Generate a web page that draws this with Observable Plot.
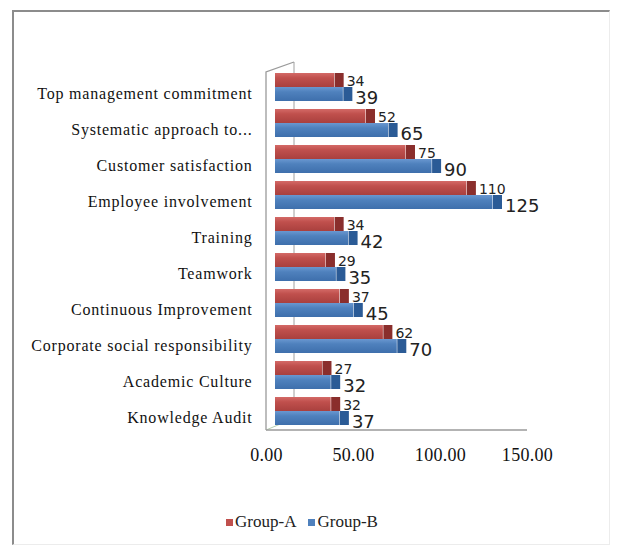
<!DOCTYPE html>
<html><head><meta charset="utf-8">
<script src="https://cdn.jsdelivr.net/npm/d3@7"></script>
<script src="https://cdn.jsdelivr.net/npm/@observablehq/plot@0.6"></script>
<style>
body{margin:0;background:#fff;}
#wrap{position:relative;width:618px;height:553px;overflow:hidden;}
#frame{position:absolute;left:12px;top:10px;width:598px;height:535px;box-sizing:border-box;border-left:2px solid #8c8c8c;border-top:2px solid #8c8c8c;border-right:1px solid #ececec;border-bottom:1px solid #ececec;}
#chart{position:absolute;left:0;top:0;}
#legend{position:absolute;left:0;top:512px;width:604px;text-align:center;font-family:"Liberation Serif",serif;font-size:17px;color:#222;}
#legend span.item{display:inline-block;margin:0 6px;}
#legend span.sw{display:inline-block;width:7px;height:7px;margin-right:2px;vertical-align:1px;}
</style></head>
<body>
<div id="wrap"><div id="frame"></div><div id="chart"></div><div id="legend"></div></div>
<script>
const categories = ["Top management commitment","Systematic approach to...","Customer satisfaction","Employee involvement","Training","Teamwork","Continuous Improvement","Corporate social responsibility","Academic Culture","Knowledge Audit"];
const groupA = [34,52,75,110,34,29,37,62,27,32];
const groupB = [39,65,90,125,42,35,45,70,32,37];
const xTicks = [0,50,100,150];
const seriesNames = ["Group-A","Group-B"];
const seriesColors = ["#c0504d","#4f81bd"];
const capColors = ["#8a2e2c","#2b5b96"];

const rows = categories.map((c,i)=>({category:c, a:groupA[i], b:groupB[i]}));

const defs = () => {
  const svg = d3.create("svg:defs");
  const mk = (id, c1, c2, c3) => {
    const g = svg.append("linearGradient").attr("id", id).attr("x1",0).attr("x2",0).attr("y1",0).attr("y2",1);
    g.append("stop").attr("offset","0%").attr("stop-color",c1);
    g.append("stop").attr("offset","35%").attr("stop-color",c2);
    g.append("stop").attr("offset","100%").attr("stop-color",c3);
  };
  mk("gA","#d46a67","#c0504d","#a9403e");
  mk("gB","#6a97d0","#4f81bd","#3e6fac");
  return svg.node();
};

const wall = (index, scales, values, dims) => {
  const g = d3.create("svg:g").attr("fill","none");
  const x0 = scales.x(0), x1 = scales.x(150);
  const top = dims.marginTop, bot = dims.height - dims.marginBottom;
  g.append("path").attr("d", `M${x0+28},${bot-12}V${top-10}`).attr("stroke","#a0a0a0");
  g.append("path").attr("d", `M${x0},${bot}V${top}L${x0+28},${top-10}`).attr("stroke","#9a9a9a").attr("stroke-width",1.3);
  g.append("path").attr("d", `M${x0},${bot}L${x0+24},${bot-10}`).attr("stroke","#b8d0b0");
  g.append("path").attr("d", `M${x0},${bot}H${x1}`).attr("stroke","#9a9a9a").attr("stroke-width",1.3);
  return g.node();
};

const plot = Plot.plot({
  width: 618,
  height: 480,
  marginLeft: 266,
  marginRight: 91,
  marginTop: 72,
  marginBottom: 50,
  style: {fontFamily: "Liberation Serif, serif", fontSize: "16px", color: "#111", background: "transparent"},
  x: {domain: [0,150], ticks: xTicks, tickFormat: d3.format(".2f"), tickSize: 0, tickPadding: 18, label: null},
  y: {domain: categories, range: [70, 428], paddingInner: 0.22, paddingOuter: 0.04, tickSize: 0, tickPadding: 14, label: null},
  marks: [
    defs,
    wall,
    Plot.barX(rows, {x: "a", y: "category", dx: 9, insetBottom: 14, fill: "url(#gA)"}),
    Plot.barX(rows, {x: "b", y: "category", dx: 9, insetTop: 14, fill: "url(#gB)"}),
    Plot.tickX(rows, {x: "a", y: "category", dx: 13.5, insetBottom: 14, stroke: capColors[0], strokeWidth: 9}),
    Plot.tickX(rows, {x: "b", y: "category", dx: 13.5, insetTop: 14, stroke: capColors[1], strokeWidth: 9}),
    Plot.text(rows, {x: "a", y: "category", text: d => String(d.a), dx: 21, dy: -6, textAnchor: "start", fontSize: 14, fill: "#222", fontFamily: "DejaVu Sans, sans-serif"}),
    Plot.text(rows, {x: "b", y: "category", text: d => String(d.b), dx: 21, dy: 11, textAnchor: "start", fontSize: 18, fill: "#222", fontFamily: "DejaVu Sans, sans-serif"})
  ]
});
d3.select(plot).selectAll('g[aria-label^="x-axis"] text').attr("font-size", 18).style("letter-spacing","0.3px");
d3.select(plot).selectAll('g[aria-label^="y-axis"] text').attr("font-size", 16).attr("dy","0.4em").style("letter-spacing","0.8px");
document.getElementById("chart").appendChild(plot);

const leg = d3.select("#legend");
seriesNames.forEach((n,i)=>{
  const it = leg.append("span").attr("class","item");
  it.append("span").attr("class","sw").style("background", seriesColors[i]);
  it.append("span").text(n);
});
</script>
</body></html>
